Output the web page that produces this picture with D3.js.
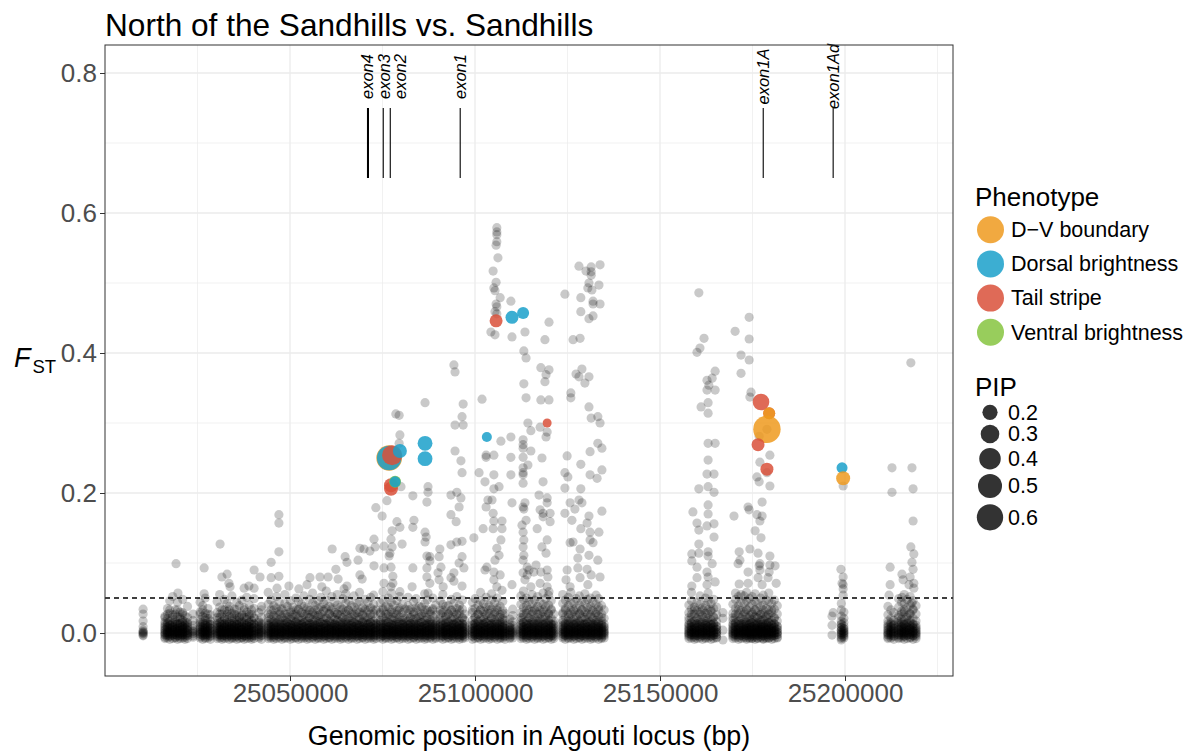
<!DOCTYPE html>
<html>
<head>
<meta charset="utf-8">
<script src="https://cdn.jsdelivr.net/npm/d3@7"></script>
<style>
  body { margin: 0; background: #fff; }
  text { font-family: "Liberation Sans", Arial, Helvetica, sans-serif; }
</style>
</head>
<body>
<svg id="chart" width="1199" height="751"></svg>
<script>
// ---------------------------------------------------------------
// Data
// ---------------------------------------------------------------
const LOCUS_START = 25000000;          // positions below are kb from here
const xTicks = [25050000, 25100000, 25150000, 25200000];
const xMinor = [25025000, 25075000, 25125000, 25175000, 25225000];
const yTicks = [0, 0.2, 0.4, 0.6, 0.8];
const yMinor = [0.1, 0.3, 0.5, 0.7];
const fstThreshold = 0.05;

// Agouti exons: start / end (bp)
const exonNames = ["exon4", "exon3", "exon2", "exon1", "exon1A", "exon1Ad"];
const exonStart = [25070800, 25075200, 25077100, 25096000, 25177900, 25196800];
const exonEnd   = [25071350, 25075200, 25077100, 25096000, 25177900, 25196800];

const phenotypes  = ["D\u2212V boundary", "Dorsal brightness", "Tail stripe", "Ventral brightness"];
const phenoColors = ["#EF9A1F", "#1AA0CA", "#D9503A", "#86C440"];
const pipBreaks   = [0.2, 0.3, 0.4, 0.5, 0.6];

// Low-Fst SNPs grouped by position: [kb, Fst x1000 of each SNP in the group]
const binsWest = [
  [10.3, -4,-1,1,4,9,17,27,34, -3,0,2],
  [16.2, -6,-2,1,5,10,16,24, -8,-3,0,4,8,13,22], [16.9, -4,0,3,8,13,21,35, -7,-2,1,5,9,15,27],
  [17.5, -5,-1,2,6,11,17,28,46, -9,-4,0,3,7,12,33], [18.3, -3,1,4,9,15,26,52, -8,-3,0,4,8,13,22],
  [19.0, -6,-2,2,6,12,19,33, -7,-2,1,5,9,15,27], [19.6, -4,0,3,7,13,23,44, -9,-4,0,3,7,12,33],
  [20.3, -5,-1,3,8,14,20,30, -8,-3,0,4,8,13,22], [21.0, -3,1,5,10,18,29,48, -7,-2,1,5,9,15,27],
  [21.6, -6,-2,2,6,11,16,25, -9,-4,0,3,7,12], [22.3, -4,0,4,9,15,22,38, -8,-3,0,4,8,13],
  [23.8, -4,-1,2,6,11,18,27, -6,0,3],
  [25.7, -5,-1,2,7,12,19,30,44, -7,-2,1,5,9,15,27], [26.4, -3,1,4,9,15,24,39, -9,-4,0,3,7,12,33],
  [27.1, -6,-2,2,6,11,18,28,50, -8,-3,0,4,8,13,22], [27.8, -4,0,3,8,13,21,35, -7,-2,1,5,9,15,27],
  [28.5, -5,-1,3,7,12,17,26, -9,-4,0,3,7,12]
];
const binsUpstream = [
  [30.3, -5,-1,2,6,11,18,29,45, -8,-3,0,4,8,13,22], [31.0, -3,1,4,9,14,22,37,55, -7,-2,1,5,9,15,27],
  [31.6, -6,-2,1,5,10,16,27, -9,-4,0,3,7,12,33], [32.3, -4,0,3,8,13,20,33,48, -8,-3,0,4,8,13,22],
  [33.0, -5,-1,2,7,12,19,31,42, -7,-2,1,5,9,15,27], [33.6, -3,1,5,9,15,24,38, -9,-4,0,3,7,12,33],
  [34.3, -6,-2,2,6,11,17,28,53, -8,-3,0,4,8,13,22], [35.0, -4,0,3,8,13,21,34, -7,-2,1,5,9,15,27],
  [35.6, -5,-1,2,7,12,18,26,44, -9,-4,0,3,7,12,33], [36.3, -3,1,4,9,15,23,39, -8,-3,0,4,8,13,22],
  [37.0, -6,-2,1,5,10,16,25,47, -7,-2,1,5,9,15,27], [37.6, -4,0,3,8,14,22,36, -9,-4,0,3,7,12,33],
  [38.3, -5,-1,2,6,11,19,30,51, -8,-3,0,4,8,13,22], [39.0, -3,1,4,9,15,24,40, -7,-2,1,5,9,15,27],
  [39.6, -6,-2,2,7,12,18,27, -9,-4,0,3,7,12,33], [40.3, -4,0,3,8,13,21,35,49, -8,-3,0,4,8,13,22],
  [41.6, -5,-1,2,6,11,17,29, -7,-2,1,5,9,15], [42.3, -3,1,4,9,14,22,38, -9,-4,0,3,7,12,33],
  [44.1, -5,-1,2,6,11,17,28,41,58, -8,-3,0,4,8,13,22], [44.8, -4,0,3,8,13,20,33,47, -7,-2,1,5,9,15,27],
  [45.6, -6,-2,1,5,10,16,25,39, -9,-4,0,3,7,12,33], [46.3, -3,1,4,9,15,24,36,52, -8,-3,0,4,8,13,22],
  [47.1, -5,-1,2,7,12,19,31,44, -7,-2,1,5,9,15,27], [47.8, -4,0,3,8,14,22,35, -9,-4,0,3,7,12,33],
  [48.6, -6,-2,2,6,11,18,27,42,55, -8,-3,0,4,8,13,22], [49.3, -3,1,4,9,15,23,38, -7,-2,1,5,9,15,27],
  [50.1, -5,-1,3,7,12,19,30,46, -9,-4,0,3,7,12,33], [50.8, -4,0,2,6,11,17,26,37, -8,-3,0,4,8,13,22],
  [51.6, -6,-2,1,5,10,16,24,33,50, -7,-2,1,5,9,15,27], [52.3, -3,1,4,8,13,21,34,45, -9,-4,0,3,7,12,33],
  [53.1, -5,-1,2,7,12,18,29,41, -8,-3,0,4,8,13,22], [53.8, -4,0,3,9,15,24,38,53, -7,-2,1,5,9,15,27],
  [54.6, -6,-2,2,6,11,17,27,36, -9,-4,0,3,7,12,33], [55.3, -3,1,4,8,14,22,32,48, -8,-3,0,4,8,13,22],
  [56.1, -5,-1,3,7,12,19,30,43,57, -7,-2,1,5,9,15,27], [56.8, -4,0,2,6,11,18,26,39, -9,-4,0,3,7,12,33],
  [57.6, -6,-2,1,5,10,16,25,34,46, -8,-3,0,4,8,13,22], [58.3, -3,1,4,9,15,23,37,51, -7,-2,1,5,9,15,27],
  [59.1, -5,-1,2,7,12,20,31,42, -9,-4,0,3,7,12,33], [59.8, -4,0,3,8,13,21,35,47,60, -8,-3,0,4,8,13,22],
  [60.6, -6,-2,2,6,11,17,28,38, -7,-2,1,5,9,15,27], [61.3, -3,1,4,9,14,24,36,52, -9,-4,0,3,7,12,33],
  [62.1, -5,-1,3,7,12,19,29,44, -8,-3,0,4,8,13,22], [62.8, -4,0,2,6,11,18,27,40,55, -7,-2,1,5,9,15,27],
  [63.6, -6,-2,1,5,10,16,26,37, -9,-4,0,3,7,12,33], [64.3, -3,1,4,9,15,22,34,49, -8,-3,0,4,8,13,22],
  [65.1, -5,-1,2,7,12,19,31,43,56, -7,-2,1,5,9,15,27], [65.8, -4,0,3,8,14,21,33,46, -9,-4,0,3,7,12,33],
  [66.6, -6,-2,2,6,11,17,27,39, -8,-3,0,4,8,13,22], [67.3, -3,1,4,9,15,24,37,53, -7,-2,1,5,9,15,27],
  [68.1, -5,-1,3,7,12,18,29,42, -9,-4,0,3,7,12,33], [68.8, -4,0,2,6,11,19,30,45,58, -8,-3,0,4,8,13,22],
  [69.6, -6,-2,1,5,10,16,25,36, -7,-2,1,5,9,15,27], [70.3, -3,1,4,8,14,22,35,48, -9,-4,0,3,7,12,33],
  [71.1, -5,-1,2,7,12,19,32,44, -8,-3,0,4,8,13,22], [71.8, -4,0,3,9,15,23,36,51, -7,-2,1,5,9,15,27],
  [72.6, -6,-2,2,6,11,17,28,41,54, -9,-4,0,3,7,12,33], [73.3, -3,1,4,8,13,21,33, -8,-3,0,4,8,13],
  [74.4, -5,-1,2,7,12,18,29,43, -7,-2,1,5,9,15,27], [75.1, -4,0,3,8,14,22,35,47,59, -9,-4,0,3,7,12,33],
  [75.9, -6,-2,1,5,10,17,27,38, -8,-3,0,4,8,13,22], [76.6, -3,1,4,9,15,24,37,50, -7,-2,1,5,9,15,27],
  [77.4, -5,-1,3,7,12,19,30,44,57, -9,-4,0,3,7,12,33], [78.1, -4,0,2,6,11,18,28,40, -8,-3,0,4,8,13,22],
  [78.9, -6,-2,2,6,12,20,32,46, -7,-2,1,5,9,15,27], [79.6, -3,1,4,9,15,23,36,52, -9,-4,0,3,7,12,33],
  [80.4, -5,-1,2,7,12,18,29,41, -8,-3,0,4,8,13,22], [81.1, -4,0,3,8,13,21,34, -7,-2,1,5,9,15]
];
const binsGene = [
  [81.9, -5,-1,2,6,11,17,27,39,51, -9,-4,0,3,7,12,33], [82.6, -3,1,4,9,14,22,34, -8,-3,0,4,8,13,22],
  [83.4, -6,-2,2,7,12,19,30,45, -7,-2,1,5,9,15,27], [84.1, -4,0,3,8,13,21,36,49, -9,-4,0,3,7,12,33],
  [84.9, -5,-1,1,5,10,16,25,38, -8,-3,0,4,8,13,22], [85.6, -3,1,4,9,15,24,37, -7,-2,1,5,9,15,27],
  [86.4, -6,-2,2,6,11,18,29,42,56, -9,-4,0,3,7,12,33], [87.1, -4,0,3,8,13,20,33,47, -8,-3,0,4,8,13,22],
  [87.9, -5,-1,2,7,12,19,31, -7,-2,1,5,9,15,27], [88.6, -3,1,4,9,14,23,35,50, -9,-4,0,3,7,12,33],
  [89.4, -6,-2,2,6,11,17,26,40, -8,-3,0,4,8,13],
  [90.6, -4,0,3,8,13,21,33,46, -7,-2,1,5,9,15,27], [91.3, -5,-1,2,6,11,18,29,41,55, -9,-4,0,3,7,12,33],
  [92.1, -3,1,4,9,15,24,38, -8,-3,0,4,8,13,22], [92.8, -6,-2,1,5,10,16,27,39, -7,-2,1,5,9,15,27],
  [93.6, -4,0,3,8,13,20,32,48, -9,-4,0,3,7,12,33], [94.3, -5,-1,2,7,12,19,30,43, -8,-3,0,4,8,13,22],
  [95.1, -3,1,4,9,14,22,35,52, -7,-2,1,5,9,15,27], [95.8, -6,-2,2,6,11,17,28,40, -9,-4,0,3,7,12,33],
  [96.6, -4,0,3,8,13,21,34,47, -8,-3,0,4,8,13,22], [97.2, -5,-1,2,7,12,18,27, -7,-2,1,5,9],
  [99.3, -5,-1,2,6,11,18,29,44, -9,-4,0,3,7,12,33], [100.0, -3,1,4,9,14,22,35,49, -8,-3,0,4,8,13,22],
  [100.8, -6,-2,1,5,10,17,27,40, -7,-2,1,5,9,15,27], [101.5, -4,0,3,8,13,20,33,46,58, -9,-4,0,3,7,12,33],
  [102.3, -5,-1,2,7,12,19,31,42, -8,-3,0,4,8,13,22], [103.0, -3,1,4,9,15,24,37,51, -7,-2,1,5,9,15,27],
  [103.8, -6,-2,2,6,11,17,28,39, -9,-4,0,3,7,12,33], [104.5, -4,0,3,8,13,21,34,47,56, -8,-3,0,4,8,13,22],
  [105.3, -5,-1,2,7,12,19,30,43, -7,-2,1,5,9,15,27], [106.0, -3,1,4,9,14,23,36,50, -9,-4,0,3,7,12,33],
  [106.8, -6,-2,1,5,10,16,26,38, -8,-3,0,4,8,13,22], [107.5, -4,0,3,8,13,20,32,45, -7,-2,1,5,9,15,27],
  [108.1, -5,-1,2,6,11,18,28, -9,-4,0,3,7],
  [109.4, -6,-2,1,4,8,13,20, -8,-3,0,4,8], [110.2, -4,0,3,7,11,16,25,34, -7,-2,1,5],
  [112.4, -5,-1,2,6,11,18,29,41,53, -8,-3,0,4,8,13,22], [113.1, -3,1,4,9,15,23,36,48,60, -7,-2,1,5,9,15,27],
  [113.9, -6,-2,2,6,11,17,28,39,50, -9,-4,0,3,7,12,33], [114.6, -4,0,3,8,13,21,33,45, -8,-3,0,4,8,13,22],
  [115.4, -5,-1,2,7,12,19,31,42,55, -7,-2,1,5,9,15,27], [116.1, -3,1,4,9,14,22,35,47, -9,-4,0,3,7,12,33],
  [116.9, -6,-2,1,5,10,17,27,38,52, -8,-3,0,4,8,13,22], [117.6, -4,0,3,8,13,20,32,44, -7,-2,1,5,9,15,27],
  [118.4, -5,-1,2,7,12,19,30,41,57, -9,-4,0,3,7,12,33], [119.1, -3,1,4,9,15,24,37,49, -8,-3,0,4,8,13,22],
  [119.9, -6,-2,2,6,11,18,28,40,54, -7,-2,1,5,9,15,27], [120.6, -4,0,3,8,13,21,34,46, -9,-4,0,3,7,12,33],
  [121.3, -5,-1,2,6,11,17,27, -8,-3,0,4,8,13],
  [123.7, -5,-1,2,6,11,18,29,42,55, -7,-2,1,5,9,15,27], [124.4, -3,1,4,9,14,22,35,47, -9,-4,0,3,7,12,33],
  [125.2, -6,-2,1,5,10,17,27,39,51, -8,-3,0,4,8,13,22], [125.9, -4,0,3,8,13,20,32,44,58, -7,-2,1,5,9,15,27],
  [126.7, -5,-1,2,7,12,19,31,43, -9,-4,0,3,7,12,33], [127.4, -3,1,4,9,15,24,36,49, -8,-3,0,4,8,13,22],
  [128.2, -6,-2,2,6,11,17,28,40,53, -7,-2,1,5,9,15,27], [128.9, -4,0,3,8,13,21,33,45, -9,-4,0,3,7,12,33],
  [129.7, -5,-1,2,7,12,19,30,42,56, -8,-3,0,4,8,13,22], [130.4, -3,1,4,9,14,23,36,48, -7,-2,1,5,9,15,27],
  [131.2, -6,-2,1,5,10,16,26,38,50, -9,-4,0,3,7,12,33], [131.9, -4,0,3,8,13,20,32,44, -8,-3,0,4,8,13,22],
  [132.7, -5,-1,2,7,12,18,29,41,54, -7,-2,1,5,9,15,27], [133.4, -3,1,4,9,15,24,37,49, -9,-4,0,3,7,12,33],
  [134.2, -6,-2,2,6,11,17,27,39, -8,-3,0,4,8,13,22], [134.9, -4,0,3,8,13,21,33, -7,-2,1,5,9]
];
const binsEast = [
  [157.8, -5,-1,2,6,11,18,29,40, -8,-3,0,4,8,13,22], [158.5, -3,1,4,9,14,22,34,46,58, -7,-2,1,5,9,15,27],
  [159.3, -6,-2,1,5,10,17,27,37, -9,-4,0,3,7,12,33], [160.0, -4,0,3,8,13,20,32,44, -8,-3,0,4,8,13,22],
  [160.8, -5,-1,2,7,12,19,30,41,53, -7,-2,1,5,9,15,27], [161.5, -3,1,4,9,15,24,36, -9,-4,0,3,7,12,33],
  [162.3, -6,-2,2,6,11,17,28,39,50, -8,-3,0,4,8,13,22], [163.0, -4,0,3,8,13,21,33,45,57, -7,-2,1,5,9,15,27],
  [163.8, -5,-1,2,7,12,19,31,42, -9,-4,0,3,7,12,33], [164.5, -3,1,4,9,14,23,35,48, -8,-3,0,4,8,13,22],
  [165.3, -6,-2,1,5,10,16,26,37, -7,-2,1,5,9],
  [169.7, -5,-1,2,6,11,18,28,41, -8,-3,0,4,8,13,22], [170.4, -3,1,4,9,14,22,35,48,57, -7,-2,1,5,9,15,27],
  [171.2, -6,-2,1,5,10,17,27,39,52, -9,-4,0,3,7,12,33], [171.9, -4,0,3,8,13,20,32,44,55, -8,-3,0,4,8,13,22],
  [172.7, -5,-1,2,4,7,12,19,30,42,53, -7,-2,1,5,9,15,27], [173.4, -7,-3,0,3,6,10,15,22,34,46,58, -9,-4,0,3,7,12,33],
  [174.2, -6,-2,1,4,8,12,17,25,37,49, -8,-3,0,4,8,13,22], [174.9, -8,-4,-1,2,5,9,14,20,29,41,52, -7,-2,1,5,9,15,27],
  [175.7, -6,-2,1,4,7,11,16,23,33,45,56, -9,-4,0,3,7,12,33], [176.4, -7,-3,0,3,6,10,15,21,31,43, -8,-3,0,4,8,13,22],
  [177.2, -5,-1,2,5,8,12,18,26,38,50, -7,-2,1,5,9,15,27], [177.9, -8,-4,-1,2,5,9,13,19,28,40,54, -9,-4,0,3,7,12,33],
  [178.7, -6,-2,1,4,7,11,16,24,35,47, -8,-3,0,4,8,13,22], [179.4, -7,-3,0,3,6,10,15,22,33,45,57, -7,-2,1,5,9,15,27],
  [180.2, -5,-1,2,6,11,18,29,42, -9,-4,0,3,7,12,33], [180.9, -4,0,3,8,13,21,34,47, -8,-3,0,4,8,13,22],
  [181.7, -6,-2,1,5,10,17,27,39, -7,-2,1,5,9],
  [196.5, -3,11,24], [199.0, -10,-6,-2,1,4,8,12,17,24,33,42, -8,-3,0,4,8,13], [199.7, -7,-3,0,3,6,10,15,21,30, -5,-1,2,6],
  [211.6, -6,-2,1,5,10,17,26,38, -8,-3,0,4,8,13], [212.4, -4,0,3,8,13,21,33, -7,-2,1,5,9,15],
  [213.2, -5,-1,2,6,11,18,29, -9,-4,0,3,7,12],
  [214.5, -6,-2,1,5,10,16,25,37,49, -8,-3,0,4,8,13,22], [215.3, -4,0,3,8,13,20,31,44, -7,-2,1,5,9,15,27],
  [216.0, -5,-1,2,7,12,19,30,42,55, -9,-4,0,3,7,12,33], [216.8, -3,1,4,9,15,24,36,48, -8,-3,0,4,8,13,22],
  [217.6, -6,-2,2,6,11,18,28,40,52, -7,-2,1,5,9,15,27], [218.4, -4,0,3,8,13,21,34,46, -9,-4,0,3,7,12,33],
  [219.2, -5,-1,2,6,11,17,27,39, -8,-3,0,4,8]
];

// Individual SNPs above the baseline: [kb, Fst]
const snpsHigh = [
  [19.2,.099],[19.7,.057],[26.8,.093],[26.8,.056],[31.1,.127],[31.6,.080],[33.0,.084],[33.5,.071],[33.8,.066],
  [37.6,.064],[38.9,.067],[40.3,.090],[41.9,.080],[40.3,.064],[44.9,.101],[44.9,.079],[47.0,.116],[47.0,.157],
  [47.0,.169],[47.0,.081],[46.5,.064],[49.7,.067],[52.4,.063],[54.6,.069],[55.4,.079],[58.1,.080],[58.6,.066],
  [60.3,.080],[61.4,.120],[62.4,.091],[63.0,.077],[64.9,.109],[65.4,.101],[64.6,.063],[65.4,.067],[68.4,.104],
  [68.9,.121],[70.0,.120],[68.9,.083],[69.5,.077],[71.6,.117],[72.7,.134],[73.0,.123],[72.7,.096],[73.2,.179],
  [74.9,.167],[75.4,.124],[75.4,.093],[76.2,.189],[76.8,.110],[77.3,.134],[77.0,.114],[77.3,.094],[77.6,.123],
  [77.6,.146],[78.9,.159],[79.7,.151],[80.3,.127],[77.8,.081],[75.4,.071],[77.3,.066],[79.7,.059],[77.8,.071],
  [105.9,.579],[105.9,.573],[105.9,.569],[105.7,.554],[105.9,.559],[106.2,.536],[104.9,.517],[105.7,.501],
  [105.1,.493],[105.4,.489],[106.8,.479],[105.7,.470],[105.9,.466],[105.4,.459],[105.9,.456],[104.3,.430],
  [105.4,.426],[109.7,.474],[110.0,.423],[113.5,.430],[120.0,.444],[128.1,.524],[130.0,.517],[131.4,.523],
  [131.4,.516],[131.4,.511],[133.8,.526],[130.8,.500],[133.5,.497],[130.5,.493],[131.6,.490],[128.6,.479],
  [131.9,.474],[131.9,.470],[133.8,.470],[128.6,.459],[131.9,.453],[130.8,.449],[124.3,.484],[128.4,.421],
  [126.5,.419],[118.9,.419],[113.2,.403],[113.8,.393],[117.8,.379],[120.0,.376],[119.2,.369],[118.9,.359],
  [113.2,.356],[128.9,.377],[127.3,.370],[128.1,.366],[130.8,.366],[129.7,.357],[125.9,.343],[125.9,.336],
  [130.8,.323],[133.2,.309],[131.4,.307],[133.8,.300],[120.0,.333],[117.8,.333],[113.8,.336],[114.3,.300],
  [115.1,.289],[117.6,.294],[119.5,.287],[119.2,.280],[113.0,.276],[113.0,.269],[113.0,.264],[113.0,.251],
  [114.3,.240],[113.0,.236],[113.0,.229],[113.0,.226],[113.0,.214],[115.1,.260],[109.7,.280],[107.0,.274],
  [109.7,.251],[109.7,.226],[118.1,.250],[118.4,.216],[124.9,.253],[128.6,.241],[131.1,.259],[133.2,.271],
  [134.3,.264],[134.3,.233],[131.1,.226],[133.0,.221],[124.3,.229],[125.1,.223],[124.3,.207],[128.6,.206],
  [105.1,.254],[103.0,.254],[103.0,.251],[105.1,.226],[101.1,.229],[102.7,.216],[106.5,.209],[105.1,.206],
  [101.9,.334],[94.3,.383],[94.6,.373],[96.8,.327],[96.5,.309],[94.6,.297],[96.8,.297],[86.5,.329],
  [78.6,.313],[79.5,.311],[79.7,.283],[79.5,.271],[94.6,.260],[96.2,.246],[96.5,.229],[87.3,.209],
  [87.3,.201],[83.2,.196],[80.0,.209],[87.0,.187],[93.5,.197],[95.1,.201],[96.2,.193],[95.7,.180],
  [93.5,.169],[103.5,.190],[104.6,.190],[103.0,.180],[104.9,.171],[110.0,.186],[113.5,.186],[113.2,.177],
  [117.3,.197],[119.5,.193],[119.5,.186],[118.4,.171],[120.3,.171],[124.3,.171],[127.0,.177],[128.1,.190],
  [128.9,.186],[130.8,.167],[134.3,.174],
  [83.5,.161],[83.2,.151],[86.5,.144],[86.8,.137],[86.5,.130],[87.8,.109],[87.0,.110],[87.8,.103],[87.0,.093],
  [83.2,.093],[83.0,.066],[90.5,.120],[90.3,.109],[90.8,.094],[87.0,.080],[87.8,.071],[87.3,.057],[90.0,.086],
  [90.3,.076],[91.4,.066],[94.9,.159],[93.5,.126],[95.1,.130],[96.5,.131],[95.7,.100],[96.5,.109],[97.0,.093],
  [94.3,.086],[93.5,.079],[94.3,.074],[96.5,.067],[99.7,.136],[105.1,.160],[104.9,.149],[102.2,.149],[107.3,.160],
  [107.3,.149],[107.0,.133],[105.9,.121],[106.5,.111],[105.4,.104],[103.2,.094],[102.7,.090],[105.1,.087],
  [105.1,.076],[106.8,.083],[105.9,.066],[107.3,.061],[110.0,.069],[113.0,.180],[113.8,.161],[112.7,.154],
  [113.0,.144],[113.2,.133],[113.0,.123],[113.2,.111],[113.0,.104],[114.1,.094],[114.6,.090],[113.0,.086],
  [114.1,.083],[113.5,.076],[115.1,.066],[117.6,.176],[118.4,.166],[116.8,.149],[120.3,.159],[119.5,.133],
  [118.1,.123],[119.2,.114],[116.5,.097],[115.9,.087],[117.8,.087],[119.5,.090],[119.7,.080],[117.6,.071],
  [119.5,.066],[120.0,.059],[125.7,.186],[126.2,.161],[130.3,.157],[128.6,.149],[131.1,.144],[133.5,.144],
  [126.5,.130],[125.7,.129],[128.4,.120],[131.1,.133],[131.9,.129],[130.8,.111],[133.2,.104],[127.8,.107],
  [127.8,.093],[124.9,.090],[130.3,.091],[131.4,.083],[133.8,.080],[124.6,.076],[128.4,.079],[125.7,.066],
  [130.5,.069],
  [160.5,.486],[161.9,.421],[160.0,.401],[160.8,.407],[164.9,.374],[164.1,.364],[162.7,.361],[163.2,.354],
  [162.7,.347],[164.9,.347],[161.1,.323],[163.0,.329],[163.0,.314],[163.0,.271],[164.9,.271],[163.0,.247],
  [162.7,.227],[164.6,.227],[160.5,.206],[163.0,.209],[164.6,.201],[158.9,.173],[163.0,.183],[163.0,.170],
  [164.6,.156],[160.0,.157],[162.7,.153],[160.5,.147],[164.6,.137],[160.5,.127],[158.6,.113],[160.5,.114],
  [163.0,.116],[163.0,.110],[158.6,.103],[160.0,.094],[164.1,.099],[162.7,.087],[160.0,.079],[163.0,.080],
  [158.6,.067],[164.9,.073],[162.7,.069],[174.1,.451],[170.3,.431],[174.1,.420],[171.9,.397],[174.1,.390],
  [171.9,.371],[174.6,.344],[174.3,.337],[176.8,.281],[177.0,.244],[176.2,.223],[176.8,.216],[179.7,.254],
  [179.7,.210],[178.9,.291],[178.9,.229],[173.8,.180],[174.1,.176],[170.0,.167],[177.6,.187],[176.2,.169],
  [177.6,.167],[177.0,.160],[175.7,.146],[177.3,.136],[171.4,.116],[174.3,.120],[171.6,.104],[171.1,.099],
  [176.5,.114],[177.0,.099],[179.7,.110],[176.8,.096],[179.7,.097],[177.0,.090],[181.1,.096],[173.8,.087],
  [179.5,.087],[171.4,.070],[173.8,.071],[176.5,.079],[181.4,.071],[179.2,.079],[177.6,.069],
  [198.9,.091],[199.5,.080],[199.2,.071],[199.5,.069],[199.5,.063],[199.5,.054],[196.8,.029],[199.5,.210],
  [212.7,.236],[218.1,.236],[212.7,.201],[218.4,.206],[218.4,.160],[217.8,.123],[218.6,.113],[218.1,.101],
  [218.4,.091],[217.6,.080],[218.6,.071],[217.3,.069],[218.6,.064],[212.2,.094],[212.2,.069],[215.4,.084],
  [215.7,.076],[211.9,.054],[215.4,.051],[218.1,.043],[217.8,.386],
  [167.0,.029],[167.0,.021],[167.0,.004],[167.0,-.010]
];

// Associated SNPs (drawn in this order)
const assocKb    = [76.8, 76.8, 77.6, 79.7, 86.5, 86.5, 77.3, 77.3, 78.4, 78.4, 103.2, 105.7, 110.0, 113.0, 119.5,
                    177.3, 179.5, 179.5, 178.9, 176.5, 178.9, 199.2, 199.5];
const assocFst   = [0.250, 0.250, 0.254, 0.260, 0.271, 0.249, 0.211, 0.206, 0.216, 0.216, 0.280, 0.446, 0.451, 0.457, 0.300,
                    0.330, 0.314, 0.314, 0.291, 0.269, 0.234, 0.236, 0.221];
const assocPheno = [0, 1, 2, 1, 1, 1, 2, 2, 3, 1, 1, 2, 1, 1, 2,
                    2, 2, 0, 0, 2, 2, 1, 0];
const assocPip   = [0.57, 0.52, 0.35, 0.17, 0.19, 0.19, 0.17, 0.17, 0.125, 0.105, 0.087, 0.146, 0.146, 0.125, 0.07,
                    0.24, 0.125, 0.125, 0.65, 0.146, 0.146, 0.105, 0.17];

// ---------------------------------------------------------------
// Layout and scales
// ---------------------------------------------------------------
const svg = d3.select("#chart");
const panel = { left: 105, right: 953, top: 45, bottom: 676 };

const x = d3.scaleLinear().domain([25000000, 25229189]).range([panel.left, panel.right]);
const y = d3.scaleLinear().domain([-0.0614, 0.84]).range([panel.bottom, panel.top]);
const rPip = d3.scaleSqrt().domain([0, 1]).range([0, 17]);
const bp = kb => LOCUS_START + kb * 1000;

svg.append("rect").attr("width", 1199).attr("height", 751).attr("fill", "#fff");

const clip = svg.append("defs").append("clipPath").attr("id", "panel-clip");
clip.append("rect").attr("x", panel.left).attr("y", panel.top)
  .attr("width", panel.right - panel.left).attr("height", panel.bottom - panel.top);

// grid
const grid = svg.append("g");
grid.selectAll(".xm").data(xMinor.filter(v => x(v) < panel.right)).join("line")
  .attr("x1", d => x(d)).attr("x2", d => x(d)).attr("y1", panel.top).attr("y2", panel.bottom)
  .attr("stroke", "#EBEBEB").attr("stroke-width", 0.7);
grid.selectAll(".ym").data(yMinor).join("line")
  .attr("y1", d => y(d)).attr("y2", d => y(d)).attr("x1", panel.left).attr("x2", panel.right)
  .attr("stroke", "#EBEBEB").attr("stroke-width", 0.7);
grid.selectAll(".xM").data(xTicks).join("line")
  .attr("x1", d => x(d)).attr("x2", d => x(d)).attr("y1", panel.top).attr("y2", panel.bottom)
  .attr("stroke", "#EBEBEB").attr("stroke-width", 1.3);
grid.selectAll(".yM").data(yTicks).join("line")
  .attr("y1", d => y(d)).attr("y2", d => y(d)).attr("x1", panel.left).attr("x2", panel.right)
  .attr("stroke", "#EBEBEB").attr("stroke-width", 1.3);

// ---------------------------------------------------------------
// Points
// ---------------------------------------------------------------
const background = [];
[binsWest, binsUpstream, binsGene, binsEast].forEach(group =>
  group.forEach(([kb, ...vals]) => vals.forEach(v => background.push({ pos: bp(kb), fst: v / 1000 }))));
snpsHigh.forEach(([kb, f]) => background.push({ pos: bp(kb), fst: f }));

const plot = svg.append("g").attr("clip-path", "url(#panel-clip)");

plot.append("g").selectAll("circle").data(background).join("circle")
  .attr("cx", d => x(d.pos)).attr("cy", d => y(d.fst)).attr("r", 4.6)
  .attr("fill", "#000").attr("fill-opacity", 0.21);

// significance threshold
plot.append("line")
  .attr("x1", panel.left).attr("x2", panel.right)
  .attr("y1", y(fstThreshold)).attr("y2", y(fstThreshold))
  .attr("stroke", "#000").attr("stroke-width", 1.5).attr("stroke-dasharray", "5,4");

// exon annotations
const exonLines = plot.append("g");
exonNames.forEach((name, i) => {
  const x0 = x(exonStart[i]), x1 = x(exonEnd[i]);
  exonLines.append("line")
    .attr("x1", (x0 + x1) / 2).attr("x2", (x0 + x1) / 2)
    .attr("y1", y(0.65)).attr("y2", y(0.75))
    .attr("stroke", "#000").attr("stroke-width", Math.max(1.1, x1 - x0));
});
// labels pushed apart so neighbouring exons stay readable
let prev = -Infinity;
const labelX = exonNames.map((n, i) => {
  const cx = Math.max(x((exonStart[i] + exonEnd[i]) / 2), prev + 16.5);
  prev = cx;
  return cx;
});
exonNames.forEach((name, i) => {
  svg.append("text")
    .attr("transform", `translate(${labelX[i] + 5.5},${y(0.795)}) rotate(-90)`)
    .attr("text-anchor", "middle").attr("font-style", "italic")
    .attr("font-size", 16.5).attr("fill", "#000").text(name);
});

// associated SNPs
const assoc = assocKb.map((kb, i) => ({ pos: bp(kb), fst: assocFst[i], ph: assocPheno[i], pip: assocPip[i] }));
plot.append("g").selectAll("circle").data(assoc).join("circle")
  .attr("cx", d => x(d.pos)).attr("cy", d => y(d.fst)).attr("r", d => rPip(d.pip))
  .attr("fill", d => phenoColors[d.ph]).attr("fill-opacity", 0.85);

// panel border
svg.append("rect").attr("x", panel.left).attr("y", panel.top)
  .attr("width", panel.right - panel.left).attr("height", panel.bottom - panel.top)
  .attr("fill", "none").attr("stroke", "#333").attr("stroke-width", 1);

// ---------------------------------------------------------------
// Axes
// ---------------------------------------------------------------
const xAxis = svg.append("g").attr("transform", `translate(0,${panel.bottom})`)
  .call(d3.axisBottom(x).tickValues(xTicks).tickFormat(d3.format("d")).tickSize(5).tickPadding(5));
const yAxis = svg.append("g").attr("transform", `translate(${panel.left},0)`)
  .call(d3.axisLeft(y).tickValues(yTicks).tickFormat(d3.format(".1f")).tickSize(5).tickPadding(3));
[xAxis, yAxis].forEach(a => {
  a.select(".domain").remove();
  a.selectAll(".tick line").attr("stroke", "#333").attr("stroke-width", 1);
  a.selectAll(".tick text").attr("fill", "#4D4D4D").attr("font-size", 26)
    .attr("font-family", "'Liberation Sans', Arial, Helvetica, sans-serif");
});
xAxis.selectAll(".tick text").attr("dy", "0.71em").attr("y", 8);

// titles
svg.append("text").attr("x", 105).attr("y", 36).attr("font-size", 31.6).attr("fill", "#000")
  .text("North of the Sandhills vs. Sandhills");
svg.append("text").attr("x", 529).attr("y", 745).attr("text-anchor", "middle")
  .attr("font-size", 26.8).attr("fill", "#000").text("Genomic position in Agouti locus (bp)");
const yTitle = svg.append("text").attr("x", 14).attr("y", 367).attr("fill", "#000");
yTitle.append("tspan").attr("font-style", "italic").attr("font-size", 27).text("F");
yTitle.append("tspan").attr("font-size", 18.5).attr("dx", 2).attr("dy", 6).text("ST");

// ---------------------------------------------------------------
// Legends
// ---------------------------------------------------------------
const leg = svg.append("g");
leg.append("text").attr("x", 975).attr("y", 206).attr("font-size", 26).attr("fill", "#000").text("Phenotype");
phenotypes.forEach((p, i) => {
  const cy = 229.7 + i * 34.2;
  leg.append("circle").attr("cx", 990.5).attr("cy", cy).attr("r", 13.5)
    .attr("fill", phenoColors[i]).attr("fill-opacity", 0.85);
  leg.append("text").attr("x", 1011).attr("y", cy + 7.3).attr("font-size", 21.5).attr("fill", "#000").text(p);
});

leg.append("text").attr("x", 975).attr("y", 396).attr("font-size", 26).attr("fill", "#000").text("PIP");
const pipY = [412.3, 434, 458.7, 486, 517.3];
pipBreaks.forEach((b, i) => {
  leg.append("circle").attr("cx", 990).attr("cy", pipY[i]).attr("r", rPip(b)).attr("fill", "#333");
  leg.append("text").attr("x", 1008).attr("y", pipY[i] + 7.2).attr("font-size", 21.5).attr("fill", "#000")
    .text(d3.format(".1f")(b));
});
</script>
</body>
</html>
